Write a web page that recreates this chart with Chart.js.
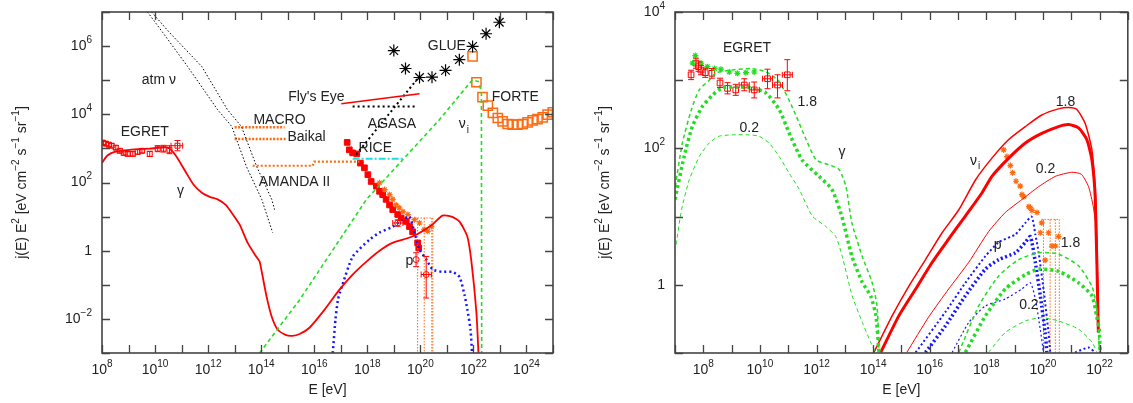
<!DOCTYPE html>
<html>
<head>
<meta charset="utf-8">
<script src="https://cdn.jsdelivr.net/npm/chart.js@4.4.0/dist/chart.umd.min.js"></script>
<style>
  html, body { margin: 0; padding: 0; background: #fff; }
  #wrap { position: relative; width: 1133px; height: 403px; overflow: hidden; }
  #left { position: absolute; left: 0; top: 0; }
  #right { position: absolute; left: 566px; top: 0; }
</style>
</head>
<body>
<div id="wrap">
  <canvas id="left" width="566" height="403"></canvas>
  <canvas id="right" width="567" height="403"></canvas>
</div>
<script>
// ---------- left panel data ----------
var gamE = [1e8,1.6e8,3e8,1.1e9,6.3e9,3e10,6e10,1.4e11,2.8e11,5.8e11,1.15e12,2.3e12,4.6e12,8.3e12,1.55e13,3.1e13,6.2e13,8.7e13,1.1e14,1.6e14,2.5e14,4.2e14,8.3e14,1.5e15,2.8e15,6.6e15,2.5e16,8.9e16,2.8e17,9.3e17,2.9e18,8.9e18,5e19,2.8e20,6.8e20,1.5e21,3e21,5.9e21,8.5e21,1.3e22,1.55e22];
var gamY = [3.8e2,6.2e2,7.9e2,9.1e2,9.8e2,1.05e3,6.2e2,2.1e2,87,50,38,32,22,12,5.8,1.7,0.71,0.48,0.2,0.045,0.0115,0.0048,0.0034,0.0032,0.0036,0.0055,0.019,0.072,0.2,0.48,1.0,1.7,2.6,5.8,10.7,10,7.1,2.6,0.45,0.015,0.001];

var egLE  = [1.07e8,1.4e8,1.8e8,2.3e8,3.3e8,4.7e8,6.6e8,9.3e8,1.45e9,2.2e9,3.2e9,6.3e9,1.26e10,2.1e10,3.5e10,7e10];
var egLY  = [1.48e3,1.38e3,1.29e3,1.2e3,1.05e3,8.5e2,7.4e2,6.9e2,6.9e2,7.9e2,8.5e2,6.9e2,9.8e2,9.8e2,9.1e2,1.2e3];
var egLLo = [1.3e3,1.2e3,1.12e3,1.05e3,9.2e2,7.4e2,6.4e2,6e2,6e2,6.8e2,7.4e2,5.8e2,8e2,7.8e2,7e2,8.5e2];
var egLHi = [1.7e3,1.6e3,1.48e3,1.38e3,1.2e3,9.8e2,8.5e2,8e2,8e2,9.2e2,9.8e2,8.2e2,1.2e3,1.23e3,1.2e3,1.7e3];
var egLXLo = [null,null,null,null,null,null,null,null,null,null,null,null,null,null,null,4e10];
var egLXHi = [null,null,null,null,null,null,null,null,null,null,null,null,null,null,null,1.1e11];

var atmAE = [5.2e9,1.95e10,1.7e11,2.3e12,7.8e12,2.8e13,1.05e14,2.7e14];
var atmAY = [1e7,2.5e6,2.5e5,1.35e4,4.4e3,2.9e2,32,3.4];
var atmBE = [7.4e9,3.5e10,5.8e11,5.4e12,1.8e13,6.8e13,2.5e14,3.2e14];
var atmBY = [1e7,2.5e6,2.5e5,1.35e4,4.4e3,2.9e2,32,16];

var macroE = [1e13,7.6e14];      var macroY = [4.2e3,4.2e3];
var baikalE = [1e13,8.9e14];     var baikalY = [1.9e3,1.9e3];
var amandaE = [4.8e13,8.7e15,1e16,5e17]; var amandaY = [3.1e2,3.1e2,4.1e2,4.1e2];
var riceE = [2.8e17,2.5e19];     var riceY = [5e2,5e2];
var flyE = [1.05e17,9.3e19];     var flyY = [2.05e4,4e4];
var agasaE = [2.8e17,7.8e19];    var agasaY = [1.7e4,1.7e4];
var glueLineE = [3.8e17,9.3e19]; var glueLineY = [6.6e2,1.3e5];
var glueE = [1e19,2.75e19,9.3e19,2.75e20,8.9e20,2.95e21,9.3e21,3e22,9.5e22];
var glueY = [7.4e5,2.2e5,1.2e5,1.23e5,1.95e5,4e5,9.8e5,2.3e6,5e6];

var forteE = [9.3e21,1.3e22,2.2e22,3.5e22,5.4e22,8.3e22,1.26e23,1.95e23,3e23,4.7e23,7.2e23,1.1e24,1.7e24,2.6e24,4.1e24,6.3e24,9.8e24];
var forteY = [5e5,8.7e4,3.2e4,1.8e4,1.1e4,7.8e3,6.2e3,5.2e3,5e3,5e3,5.2e3,5.8e3,6.6e3,7.2e3,8.1e3,9.8e3,1.15e4];

var nuLE = [8.7e13,2.8e15,9.3e17,5.2e20,9.1e21,1.55e22,2e22,2.05e22];
var nuLY = [1e-3,0.036,32,6.9e3,1.02e5,9.1e4,4.6e4,1e-3];

var pLE = [5e16,6.3e16,7.8e16,1.07e17,2.8e17,1.2e18,2.9e18,8.9e18,2.1e19,3.9e19,6e19,9.3e19,1.7e20,2.9e20,6.8e20,1.6e21,3e21,4.6e21,5.9e21,7.8e21,8.9e21];
var pLY = [1e-3,9.5e-3,0.036,0.083,0.66,2.1,3.4,5,8.1,10,3.4,1.07,0.55,0.28,0.24,0.24,0.17,0.051,0.019,0.0048,1e-3];

var crE = [1.74e17,2.1e17,2.8e17,4e17,5.5e17,7.8e17,1.05e18,1.4e18,2.2e18,2.9e18,3.8e18,5.1e18,6.9e18,9.1e18,1.4e19,1.9e19,2.95e19,3.9e19,5.1e19,7.9e19,8.7e19];
var crY = [1.5e3,9.1e2,7.4e2,6.9e2,3.7e2,2.7e2,1.7e2,1.07e2,78,55,44,32,22,16,11.5,9.1,7.2,5.1,3.6,1.7,1.2];

var hrE = [2.9e18,4.5e18,6.9e18,9.1e18,1.23e19,1.6e19,2.2e19,3.4e19,6e19,9.3e19,1.4e20,1.9e20,2.6e20];
var hrY = [98,62,44,32,22,18,14,11.5,8.1,6.5,4.2,3.7,5.1];

var exE = [1.4e19,6.9e19,1.66e20];
var exY = [6.5,0.55,0.2];
var exYLo = [5.2,0.34,0.041];
var exYHi = [8,0.87,0.68];
var exXLo = [9.1e18,null,1.07e20];
var exXHi = [2.2e19,null,2.6e20];

var limLE = [7.9e19,7.9e19,null,1.4e20,1.4e20,null,2.7e20,2.7e20,null,2.95e20,2.95e20,null,6e19,2.95e20];
var limLY = [9.1,1e-3,null,9.1,1e-3,null,9.1,1e-3,null,9.1,1e-3,null,9.1,9.1];

// ---------- right panel data ----------
var egRE  = [3.7e7,5.5e7,6.8e7,8.3e7,1.17e8,2e8,3.9e8,7.2e8,1.4e9,2.8e9,6.3e9,1.86e10,4.2e10,9.3e10];
var egRY  = [1.2e3,1.78e3,1.58e3,1.41e3,1.29e3,1.26e3,9.1e2,7.6e2,7.2e2,8.5e2,7.2e2,1.05e3,8.5e2,1.2e3];
var egRLo = [1.02e3,1.5e3,1.35e3,1.2e3,1.1e3,1.07e3,7.8e2,6.3e2,6e2,7e2,5.5e2,7.5e2,5.5e2,7e2];
var egRHi = [1.4e3,2.1e3,1.85e3,1.65e3,1.5e3,1.48e3,1.07e3,9.2e2,8.7e2,1.05e3,9.4e2,1.45e3,1.2e3,2e3];
var egRXLo = [null,null,null,null,null,null,null,null,null,1.85e9,4.2e9,1.23e10,2.8e10,6.2e10];
var egRXHi = [null,null,null,null,null,null,null,null,null,4.2e9,9.5e9,2.8e10,6.3e10,1.4e11];

var grE = [4.2e7,5.2e7,8.3e7,1.4e8,2.5e8,4.2e8,8.3e8,1.6e9,3.2e9,6.3e9];
var grY = [1.78e3,2.3e3,1.78e3,1.58e3,1.48e3,1.45e3,1.32e3,1.26e3,1.29e3,1.32e3];

var gUpE = [1.02e7,1.82e7,3.8e7,7.2e7,1.62e8,2.9e8,1.05e9,5.4e9,1.66e10,4.8e10,1.38e11,4.3e11,9.8e11,2.75e12,6.3e12,1.1e13,1.78e13,4.1e13,9.1e13,1.38e14,1.62e14,null,1.07e17,5.4e17,2.75e18,1.38e19,7.1e19,3.55e20,1.82e21,5.4e21,7.9e21,9.1e21,1e22];
var gUpY = [27.5,120,372,724,1000,1288,1413,1479,1318,955,407,135,67.6,57.5,49,27.5,8.1,2.63,1.1,0.49,0.102,null,0.102,0.49,1.35,2.34,2.95,2.82,1.9,0.95,0.49,0.22,0.1];

var gMidE = [1e7,2.1e7,4.1e7,9.1e7,2.1e8,4.7e8,1.05e9,5.4e9,1.66e10,4.8e10,1.07e11,3.1e11,1.23e12,3.5e12,7.9e12,1.78e13,4.1e13,8.3e13,1.26e14,1.62e14,null,1.82e17,9.3e17,4.7e18,2.4e19,7.1e19,3.55e20,1.82e21,5.4e21,7.9e21,9.8e21,1.05e22];
var gMidY = [17.8,76,209,407,603,776,794,776,646,372,170,67.6,38.9,25.1,10,2.63,1.1,0.68,0.35,0.102,null,0.102,0.35,0.87,1.41,1.7,1.58,1.07,0.69,0.35,0.22,0.1];

var gLowE = [1.1e7,1.7e7,3.2e7,7.2e7,1.62e8,3.6e8,1.07e9,4.2e9,9.3e9,2.1e10,4.8e10,1.07e11,2.45e11,7.1e11,2.1e12,4.8e12,8.1e12,1.82e13,4.2e13,8.1e13,1.23e14,null,1.2e18,4.7e18,2.4e19,9.1e19,3.55e20,1.82e21,5.4e21,8.1e21];
var gLowY = [3.9,12.6,34.7,76,120,151,158,158,151,120,76,43.6,25.1,10.2,7.2,5.1,2.63,0.69,0.28,0.145,0.102,null,0.102,0.2,0.295,0.33,0.295,0.224,0.145,0.102];

var nuUpE = [1.07e14,4.7e14,1.82e15,7.1e15,2.75e16,1.07e17,4.2e17,1.58e18,6.2e18,2.4e19,9.1e19,3.55e20,8.1e20,1.58e21,3.1e21,5.4e21,7.4e21,7.9e21,9.1e21];
var nuUpY = [0.102,0.35,0.95,2.34,5.8,12.6,34.7,72,135,209,309,380,398,372,234,95,17.8,5.9,0.22];
var nuMidE = [1.86e14,8.1e14,3.2e15,1.23e16,4.7e16,1.82e17,7.1e17,1.58e18,6.2e18,2.4e19,9.1e19,3.55e20,8.1e20,1.82e21,3.55e21,5.4e21,7.1e21,9.1e21];
var nuMidY = [0.102,0.35,0.87,2.14,4.7,10.2,22.4,38.9,72,120,166,209,224,200,135,67.6,17.8,0.2];
var nuLowE = [1.55e15,9.3e15,4.7e16,2.4e17,1.2e18,4.7e18,1.82e19,7.1e19,2.75e20,1.05e21,2.3e21,4.1e21,6e21,7.9e21,9.1e21];
var nuLowY = [0.102,0.34,0.87,2.14,6,11.5,17.8,27.5,38.9,44.7,41.7,27.5,14.1,5.8,0.2];

var pUpE = [3.2e15,3.6e16,1.82e17,9.3e17,2.75e18,1.07e19,2.4e19,4e19,5.4e19,7.1e19,1.05e20,1.58e20,1.82e20,null,1.38e21,4.1e21,7.1e21];
var pUpY = [0.102,0.4,1.07,2.63,4.2,5.5,8.1,10,5.5,2.95,0.87,0.2,0.102,null,0.102,0.12,0.102];
var pMidE = [7.1e15,3.6e16,1.82e17,9.3e17,2.75e18,1.07e19,2.4e19,3.6e19,5.4e19,8.1e19,1.2e20,1.38e20];
var pMidY = [0.102,0.25,0.69,1.7,2.34,2.95,4.2,5.1,2.14,0.69,0.2,0.102];
var pLowE = [6.2e16,2.4e17,9.3e17,4.7e18,1.82e19,3.6e19,5.4e19,8.1e19,1.05e20];
var pLowY = [0.102,0.28,0.49,0.62,0.87,1.07,0.62,0.22,0.102];

var roE = [4.1e18,5.4e18,7.1e18,8.5e18,1.12e19,1.58e19,1.82e19,2.1e19,3.2e19,3.6e19,4.1e19,6.2e19,8.1e19,9.1e19,1.2e20,1.58e20,2.1e20,2.75e20,3.55e20];
var roY = [95,76,56,44,33,28,21,19.5,14,13.5,12.3,11.5,5.8,8.1,2.3,5.8,3.7,3.7,5.1];

var limRE = [1.05e20,1.05e20,null,1.8e20,1.8e20,null,2.75e20,2.75e20,null,3.8e20,3.8e20,null,8.9e19,3.8e20];
var limRY = [9.1,0.1,null,9.1,0.1,null,9.1,0.1,null,9.1,0.1,null,9.1,9.1];

// ---------- ticks ("^" marks a superscript) ----------
var leftXTicks  = [1e8,1e9,1e10,1e11,1e12,1e13,1e14,1e15,1e16,1e17,1e18,1e19,1e20,1e21,1e22,1e23,1e24,1e25];
var leftXLabels = ['10^8','','10^10','','10^12','','10^14','','10^16','','10^18','','10^20','','10^22','','10^24',''];
var leftYTicks  = [1e-3,1e-2,1e-1,1,10,1e2,1e3,1e4,1e5,1e6,1e7];
var leftYLabels = ['','10^-2','','1','','10^2','','10^4','','10^6',''];
var rightXTicks  = [1e7,1e8,1e9,1e10,1e11,1e12,1e13,1e14,1e15,1e16,1e17,1e18,1e19,1e20,1e21,1e22,1e23];
var rightXLabels = ['','10^8','','10^10','','10^12','','10^14','','10^16','','10^18','','10^20','','10^22',''];
var rightYTicks  = [0.1,1,10,1e2,1e3,1e4];
var rightYLabels = ['','1','','10^2','','10^4'];

var xTitle = 'E [eV]';
var yTitle = 'j(E) E^2 [eV cm^-2 s^-1 sr^-1]';

// ---------- annotations (data coordinates) ----------
var leftNotes = [
  { t: 'atm ν', x: 1.4e10, y: 1e5 },
  { t: 'EGRET', x: 4.1e9, y: 3.1e3 },
  { t: 'γ', x: 9.1e10, y: 54 },
  { t: 'MACRO', x: 4.9e14, y: 6.9e3 },
  { t: 'Baikal', x: 5.1e15, y: 2.1e3 },
  { t: 'AMANDA II', x: 1.8e15, y: 1.02e2 },
  { t: "Fly's Eye", x: 1.2e16, y: 3.1e4 },
  { t: 'AGASA', x: 8.5e18, y: 5e3 },
  { t: 'RICE', x: 2e18, y: 1.02e3 },
  { t: 'GLUE', x: 1e21, y: 1e6 },
  { t: 'FORTE', x: 3.8e23, y: 3.2e4 },
  { t: 'ν', sub: 'i', x: 4.2e21, y: 5.2e3 },
  { t: 'p', x: 3.9e19, y: 0.51 }
];
var rightNotes = [
  { t: 'EGRET', x: 3.5e9, y: 3e3 },
  { t: '1.8', x: 4.7e11, y: 4.8e2 },
  { t: '0.2', x: 4.2e9, y: 2e2 },
  { t: 'γ', x: 7.9e12, y: 89 },
  { t: 'ν', sub: 'i', x: 3.9e17, y: 66 },
  { t: '1.8', x: 6.3e20, y: 4.8e2 },
  { t: '0.2', x: 1.23e20, y: 49 },
  { t: 'p', x: 2.5e18, y: 3.8 },
  { t: '1.8', x: 9.5e20, y: 4.1 },
  { t: '0.2', x: 3.2e19, y: 0.5 }
];

var RED = '#ff0000', GREEN = '#22dd22', BLUE = '#1515ff', ORANGE = '#ff6a10', CYAN = '#20dcdc';
var FONT = '"Liberation Sans", Arial, sans-serif';

Chart.defaults.font.family = FONT;
Chart.defaults.font.size = 14;
Chart.defaults.color = '#222';

function pts(E, Y) {
  return E.map(function (e, i) { return { x: e, y: Y[i] }; });
}

function line(label, E, Y, color, width, dash, tension) {
  return {
    label: label, data: pts(E, Y), showLine: true,
    borderColor: color, backgroundColor: color,
    borderWidth: width, borderDash: dash || [],
    pointRadius: 0, tension: tension || 0
  };
}

function marks(label, E, Y, color, style, radius, filled, width) {
  return {
    label: label, data: pts(E, Y), showLine: false,
    pointStyle: style, pointRadius: radius,
    borderColor: color, backgroundColor: filled ? color : 'rgba(255,255,255,0)',
    borderWidth: width || 1
  };
}

function withErr(ds, yLo, yHi, xLo, xHi) {
  ds.yLo = yLo; ds.yHi = yHi; ds.xLo = xLo; ds.xHi = xHi;
  return ds;
}

// split "10^-2" style text into normal / superscript runs
function richParts(s) {
  var out = [], re = /\^(-?\d+)/g, last = 0, m;
  while ((m = re.exec(s))) {
    if (m.index > last) out.push({ t: s.slice(last, m.index), sup: false });
    out.push({ t: m[1].replace('-', '\u2212'), sup: true });
    last = re.lastIndex;
  }
  if (last < s.length) out.push({ t: s.slice(last), sup: false });
  return out;
}

function drawRich(ctx, s, x, y, align) {
  var parts = richParts(s), w = 0;
  parts.forEach(function (p) {
    ctx.font = (p.sup ? '10px ' : '14px ') + FONT;
    p.w = ctx.measureText(p.t).width;
    w += p.w;
  });
  var x0 = align === 'center' ? x - w / 2 : (align === 'right' ? x - w : x);
  ctx.textAlign = 'left';
  ctx.textBaseline = 'middle';
  parts.forEach(function (p) {
    ctx.font = (p.sup ? '10px ' : '14px ') + FONT;
    ctx.fillText(p.t, x0, p.sup ? y - 6 : y);
    x0 += p.w;
  });
}

// error bars drawn through the chart scales
var errorBars = {
  id: 'errorBars',
  afterDatasetsDraw: function (chart) {
    var ctx = chart.ctx, xs = chart.scales.x, ys = chart.scales.y, a = chart.chartArea;
    ctx.save();
    ctx.beginPath();
    ctx.rect(a.left, a.top, a.right - a.left, a.bottom - a.top);
    ctx.clip();
    chart.data.datasets.forEach(function (ds) {
      if (!ds.yLo && !ds.xLo) return;
      ctx.strokeStyle = ds.borderColor;
      ctx.lineWidth = 1;
      ctx.beginPath();
      ds.data.forEach(function (p, i) {
        var px = xs.getPixelForValue(p.x), py = ys.getPixelForValue(p.y);
        if (ds.yLo && ds.yLo[i] != null) {
          var lo = ys.getPixelForValue(ds.yLo[i]), hi = ys.getPixelForValue(ds.yHi[i]);
          ctx.moveTo(px, lo); ctx.lineTo(px, hi);
          ctx.moveTo(px - 3, lo); ctx.lineTo(px + 3, lo);
          ctx.moveTo(px - 3, hi); ctx.lineTo(px + 3, hi);
        }
        if (ds.xLo && ds.xLo[i] != null) {
          var l = xs.getPixelForValue(ds.xLo[i]), r = xs.getPixelForValue(ds.xHi[i]);
          ctx.moveTo(l, py); ctx.lineTo(r, py);
          ctx.moveTo(l, py - 3); ctx.lineTo(l, py + 3);
          ctx.moveTo(r, py - 3); ctx.lineTo(r, py + 3);
        }
      });
      ctx.stroke();
    });
    ctx.restore();
  }
};

// closed frame, inward tick marks on all four sides, tick labels with superscripts
function framePlugin(xLabels, yLabels) {
  return {
    id: 'frameTicks',
    afterDatasetsDraw: function (chart) {
      var ctx = chart.ctx, a = chart.chartArea, xs = chart.scales.x, ys = chart.scales.y;
      ctx.save();
      ctx.strokeStyle = '#444';
      ctx.lineWidth = 1.3;
      ctx.beginPath();
      xs.ticks.forEach(function (t) {
        var p = Math.round(xs.getPixelForValue(t.value)) + 0.5;
        ctx.moveTo(p, a.bottom); ctx.lineTo(p, a.bottom - 8);
        ctx.moveTo(p, a.top); ctx.lineTo(p, a.top + 8);
      });
      ys.ticks.forEach(function (t) {
        var p = Math.round(ys.getPixelForValue(t.value)) + 0.5;
        ctx.moveTo(a.left, p); ctx.lineTo(a.left + 8, p);
        ctx.moveTo(a.right, p); ctx.lineTo(a.right - 8, p);
      });
      ctx.stroke();
      ctx.lineWidth = 1.6;
      ctx.strokeRect(a.left, a.top, a.right - a.left, a.bottom - a.top);

      ctx.fillStyle = '#222';
      xs.ticks.forEach(function (t, i) {
        if (xLabels[i]) drawRich(ctx, xLabels[i], xs.getPixelForValue(t.value), a.bottom + 17, 'center');
      });
      ys.ticks.forEach(function (t, i) {
        if (yLabels[i]) drawRich(ctx, yLabels[i], a.left - 10, ys.getPixelForValue(t.value), 'right');
      });
      ctx.restore();
    }
  };
}

function notesPlugin(items, titleX) {
  return {
    id: 'notes',
    afterDraw: function (chart) {
      var ctx = chart.ctx, xs = chart.scales.x, ys = chart.scales.y, a = chart.chartArea;
      ctx.save();
      ctx.fillStyle = '#222';
      ctx.textBaseline = 'middle';
      ctx.textAlign = 'left';
      items.forEach(function (n) {
        var px = xs.getPixelForValue(n.x), py = ys.getPixelForValue(n.y);
        ctx.font = '14px ' + FONT;
        var w = ctx.measureText(n.t).width, ws = 0;
        if (n.sub) { ctx.font = '10px ' + FONT; ws = ctx.measureText(n.sub).width; }
        var x0 = px - (w + ws) / 2;
        ctx.font = '14px ' + FONT;
        ctx.fillText(n.t, x0, py);
        if (n.sub) { ctx.font = '10px ' + FONT; ctx.fillText(n.sub, x0 + w + 1, py + 6); }
      });
      drawRich(ctx, xTitle, (a.left + a.right) / 2, 390, 'center');
      ctx.translate(titleX, (a.top + a.bottom) / 2);
      ctx.rotate(-Math.PI / 2);
      drawRich(ctx, yTitle, 0, 0, 'center');
      ctx.restore();
    }
  };
}

function axis(min, max, ticks, horiz, size) {
  return {
    type: 'logarithmic', min: min, max: max,
    grid: { display: false, drawTicks: false },
    border: { display: false },
    ticks: { display: false, autoSkip: false },
    afterBuildTicks: function (s) { s.ticks = ticks.map(function (v) { return { value: v }; }); },
    afterFit: function (s) { if (horiz) { s.height = 50; } else { s.width = size; } }
  };
}

function makeChart(id, c) {
  return new Chart(document.getElementById(id), {
    type: 'scatter',
    data: { datasets: c.datasets },
    plugins: [errorBars, framePlugin(c.xLabels, c.yLabels), notesPlugin(c.notes, c.titleX)],
    options: {
      responsive: false,
      animation: false,
      layout: { padding: { top: 12, right: c.padRight, bottom: 0, left: 0 } },
      plugins: { legend: { display: false }, tooltip: { enabled: false } },
      scales: {
        x: axis(c.xMin, c.xMax, c.xTicks, true),
        y: axis(c.yMin, c.yMax, c.yTicks, false, c.yWidth)
      }
    }
  });
}

var leftSets = [
  line('atm ν 1', atmAE, atmAY, '#000', 1, [1.5, 2]),
  line('atm ν 2', atmBE, atmBY, '#000', 1, [1.5, 2]),
  line('MACRO', macroE, macroY, ORANGE, 2.5, [2, 1.5]),
  line('Baikal', baikalE, baikalY, ORANGE, 2.5, [2, 1.5]),
  line('AMANDA II', amandaE, amandaY, ORANGE, 2.2, [2, 2]),
  line('RICE', riceE, riceY, CYAN, 2, [7, 2, 2, 2]),
  line("Fly's Eye", flyE, flyY, RED, 1.6),
  line('AGASA', agasaE, agasaY, '#000', 2, [2, 3]),
  line('GLUE limit', glueLineE, glueLineY, '#000', 2, [2, 3]),
  line('ν_i', nuLE, nuLY, GREEN, 1.6, [4, 3]),
  line('γ', gamE, gamY, RED, 1.8, [], 0.2),
  line('p', pLE, pLY, BLUE, 2.5, [2, 3], 0.2),
  line('limits', limLE, limLY, ORANGE, 1, [1.5, 1.5]),
  withErr(marks('EGRET', egLE, egLY, RED, 'rect', 3.5, false, 1), egLLo, egLHi, egLXLo, egLXHi),
  marks('GLUE', glueE, glueY, '#000', 'star', 6, false, 1.2),
  marks('FORTE', forteE, forteY, ORANGE, 'rect', 6.5, false, 1.5),
  marks('orange data', hrE, hrY, ORANGE, 'star', 3, false, 1.2),
  marks('red data', crE, crY, RED, 'rect', 4, true, 1),
  withErr(marks('red extra', exE, exY, RED, 'circle', 3, false, 1), exYLo, exYHi, exXLo, exXHi)
];

var rightSets = [
  line('γ 0.2', gLowE, gLowY, GREEN, 1, [4, 3], 0.2),
  line('γ mid', gMidE, gMidY, GREEN, 3.5, [3, 3], 0.2),
  line('γ 1.8', gUpE, gUpY, GREEN, 1.5, [4, 3], 0.2),
  line('ν 0.2', nuLowE, nuLowY, RED, 1, [], 0.2),
  line('ν mid', nuMidE, nuMidY, RED, 3, [], 0.2),
  line('ν 1.8', nuUpE, nuUpY, RED, 1.5, [], 0.2),
  line('p 0.2', pLowE, pLowY, BLUE, 1.2, [2, 2.5], 0.2),
  line('p mid', pMidE, pMidY, BLUE, 3.5, [2, 2.5], 0.2),
  line('p 1.8', pUpE, pUpY, BLUE, 2, [2, 2.5], 0.2),
  line('limits', limRE, limRY, ORANGE, 1, [1.5, 1.5]),
  marks('green data', grE, grY, GREEN, 'star', 3, false, 1.2),
  withErr(marks('EGRET', egRE, egRY, RED, 'rect', 4, false, 1), egRLo, egRHi, egRXLo, egRXHi),
  marks('orange data', roE, roY, ORANGE, 'star', 3, false, 1.2)
];

makeChart('left', {
  datasets: leftSets, notes: leftNotes, titleX: 22,
  xMin: 1e8, xMax: 1e25, yMin: 1e-3, yMax: 1e7,
  xTicks: leftXTicks, xLabels: leftXLabels, yTicks: leftYTicks, yLabels: leftYLabels,
  yWidth: 102, padRight: 13
});

makeChart('right', {
  datasets: rightSets, notes: rightNotes, titleX: 39,
  xMin: 1e7, xMax: 1e23, yMin: 0.1, yMax: 1e4,
  xTicks: rightXTicks, xLabels: rightXLabels, yTicks: rightYTicks, yLabels: rightYLabels,
  yWidth: 109, padRight: 4
});
</script>
</body>
</html>
